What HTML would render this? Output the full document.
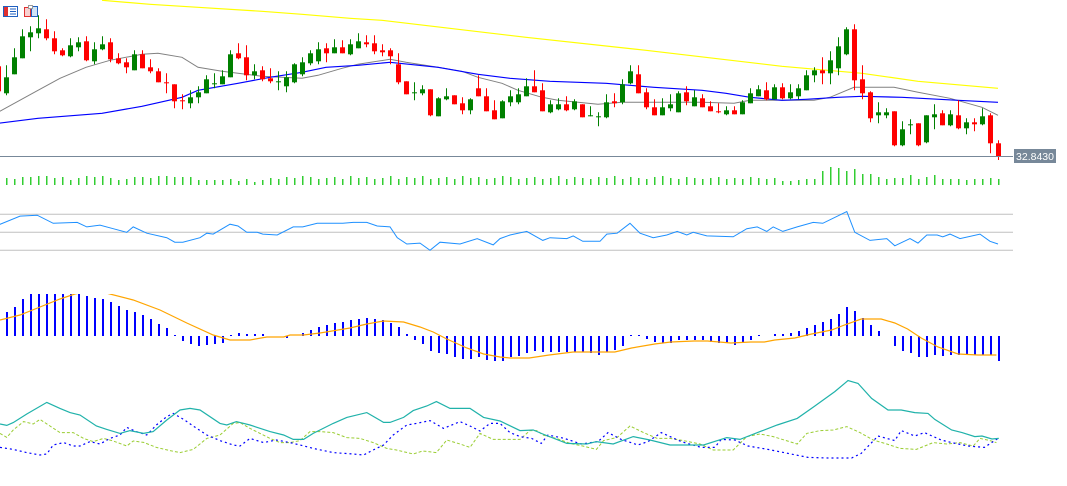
<!DOCTYPE html>
<html><head><meta charset="utf-8"><style>
html,body{margin:0;padding:0;background:#fff;width:1067px;height:486px;overflow:hidden}
svg{display:block;font-family:"Liberation Sans",sans-serif}
</style></head><body>
<svg id="chart" width="1067" height="486" viewBox="0 0 1067 486" xmlns="http://www.w3.org/2000/svg">
<defs>
<clipPath id="clipMain"><rect x="0" y="0" width="1013" height="160"/></clipPath>
<clipPath id="clipMacd"><rect x="0" y="294" width="1013" height="80"/></clipPath>
</defs>
<g id="main" clip-path="url(#clipMain)"></g>
<g id="vol"></g>
<g id="rsi"></g>
<g id="macd" clip-path="url(#clipMacd)"></g>
<g id="adx"></g>
<g>
<g>
<rect x="3.5" y="6.5" width="14" height="10" fill="#fff" stroke="#2060c0"/>
<rect x="4" y="7" width="4" height="9" fill="#e03030"/>
<line x1="10" y1="9" x2="16" y2="9" stroke="#2060c0"/><line x1="10" y1="11.5" x2="16" y2="11.5" stroke="#2060c0"/><line x1="10" y1="14" x2="16" y2="14" stroke="#2060c0"/>
</g>
<g>
<rect x="24.5" y="7.5" width="6" height="9" fill="#f8d0d0" stroke="#e03030"/>
<rect x="31.5" y="6.5" width="6" height="10" fill="#cfe3f7" stroke="#2060c0"/>
<rect x="28.5" y="5.5" width="4" height="3" fill="#fff" stroke="#999"/>
</g>
</g>
<line x1="0" y1="156.5" x2="1013" y2="156.5" stroke="#778899" stroke-width="1"/>
<rect x="1014" y="149" width="42" height="14" fill="#778899"/>
<text x="1035" y="160" fill="#fff" font-size="10.5" text-anchor="middle">32.8430</text>
</svg>
<script>
const O=[33.74,33.47,33.66,33.82,34.03,34.07,34.11,34.02,33.90,33.84,33.93,33.99,33.79,33.91,33.98,33.82,33.78,33.70,33.86,33.73,33.69,33.58,33.56,33.40,33.37,33.43,33.47,33.56,33.56,33.63,33.87,33.83,33.65,33.70,33.62,33.58,33.54,33.58,33.66,33.77,33.79,33.92,33.87,33.93,33.86,33.92,33.98,33.97,33.90,33.90,33.76,33.59,33.47,33.47,33.51,33.24,33.41,33.45,33.37,33.30,33.52,33.44,33.30,33.22,33.38,33.38,33.44,33.54,33.50,33.28,33.31,33.36,33.31,33.36,33.24,33.23,33.23,33.39,33.38,33.57,33.66,33.48,33.33,33.25,33.32,33.28,33.48,33.34,33.42,33.34,33.29,33.26,33.30,33.26,33.37,33.44,33.50,33.41,33.53,33.42,33.44,33.50,33.65,33.70,33.67,33.72,33.86,34.11,33.61,33.48,33.25,33.25,33.29,32.95,33.15,33.17,32.98,33.23,33.27,33.15,33.25,33.12,33.18,33.16,33.25,32.97];
const C=[33.49,33.63,33.83,34.04,34.08,34.12,34.02,33.89,33.85,33.95,33.98,33.80,33.91,33.96,33.81,33.77,33.73,33.86,33.72,33.69,33.58,33.57,33.39,33.39,33.43,33.48,33.61,33.57,33.64,33.86,33.82,33.65,33.69,33.61,33.59,33.59,33.63,33.76,33.78,33.87,33.91,33.87,33.93,33.87,33.96,33.99,33.96,33.89,33.88,33.84,33.58,33.46,33.48,33.51,33.25,33.42,33.44,33.36,33.30,33.41,33.44,33.29,33.21,33.39,33.44,33.46,33.54,33.48,33.29,33.36,33.36,33.30,33.39,33.23,33.25,33.24,33.38,33.37,33.56,33.69,33.47,33.33,33.25,33.33,33.36,33.47,33.39,33.43,33.33,33.29,33.28,33.30,33.26,33.38,33.47,33.51,33.41,33.53,33.42,33.48,33.52,33.65,33.70,33.67,33.80,33.94,34.11,33.60,33.47,33.22,33.28,33.28,32.95,33.11,33.16,32.95,33.25,33.26,33.15,33.26,33.12,33.18,33.16,33.24,32.97,32.84];
const H=[33.74,33.75,33.92,34.11,34.14,34.25,34.21,34.09,33.92,34.02,34.03,34.04,33.98,34.04,34.02,33.87,33.82,33.90,33.90,33.81,33.72,33.67,33.56,33.46,33.50,33.54,33.65,33.67,33.70,33.90,33.97,33.95,33.76,33.74,33.72,33.69,33.69,33.77,33.83,33.90,33.98,33.97,34.01,34.00,34.01,34.07,34.05,34.05,33.96,33.92,33.87,33.59,33.58,33.55,33.51,33.43,33.52,33.45,33.43,33.42,33.65,33.52,33.40,33.40,33.50,33.52,33.62,33.70,33.57,33.40,33.42,33.44,33.41,33.36,33.34,33.28,33.46,33.47,33.61,33.75,33.75,33.52,33.41,33.42,33.46,33.49,33.54,33.50,33.46,33.39,33.37,33.34,33.34,33.40,33.52,33.55,33.58,33.56,33.57,33.56,33.56,33.70,33.73,33.83,33.89,34.03,34.13,34.16,33.75,33.49,33.38,33.32,33.29,33.19,33.21,33.17,33.25,33.36,33.30,33.30,33.40,33.22,33.22,33.32,33.27,33.00];
const L=[33.49,33.45,33.66,33.82,33.89,34.02,34.00,33.86,33.84,33.83,33.89,33.79,33.76,33.90,33.78,33.76,33.67,33.70,33.72,33.67,33.58,33.47,33.32,33.31,33.32,33.37,33.47,33.52,33.56,33.63,33.81,33.60,33.61,33.59,33.57,33.50,33.48,33.57,33.64,33.75,33.76,33.78,33.87,33.87,33.85,33.92,33.93,33.86,33.84,33.76,33.56,33.46,33.40,33.45,33.24,33.24,33.40,33.36,33.26,33.26,33.44,33.29,33.21,33.22,33.34,33.36,33.44,33.48,33.29,33.27,33.30,33.29,33.30,33.23,33.24,33.14,33.22,33.33,33.36,33.56,33.47,33.31,33.25,33.25,33.29,33.28,33.35,33.34,33.33,33.29,33.27,33.25,33.26,33.26,33.37,33.44,33.40,33.41,33.41,33.41,33.41,33.50,33.58,33.56,33.56,33.65,33.85,33.50,33.41,33.18,33.17,33.22,32.94,32.94,33.06,32.94,32.97,33.11,33.15,33.14,33.11,33.06,33.09,33.15,32.87,32.78];
const maFastIdx=[0,5,7.75,11,14,18,20,23,25,28,30,33,38,40,43,45,49,51,55,58,60,63,65,68,70,75,78,88,92,94,102,104,107,112,115,119,123,125];
const maFastVal=[33.28,33.50,33.62,33.73,33.80,33.86,33.87,33.83,33.73,33.69,33.67,33.64,33.62,33.65,33.72,33.76,33.81,33.78,33.73,33.69,33.63,33.57,33.50,33.43,33.40,33.36,33.38,33.38,33.37,33.40,33.40,33.43,33.53,33.53,33.48,33.42,33.33,33.25];
const maMidIdx=[0,5,13,18,23,25,30,34,38,41,45,49,55,60,64,69,76,82,88,91,94,98,101,105,108,113,120,125];
const maMidVal=[33.17,33.22,33.27,33.34,33.43,33.50,33.57,33.63,33.68,33.73,33.75,33.78,33.73,33.66,33.62,33.59,33.57,33.53,33.50,33.47,33.43,33.40,33.41,33.43,33.44,33.43,33.40,33.38];
const maSlowIdx=[13,19,25,33,38,44,48,66,81,98,108,115,125];
const maSlowVal=[34.40,34.36,34.33,34.29,34.26,34.22,34.20,34.03,33.90,33.74,33.67,33.59,33.52];
const volume=[7,7,6,8,8,9,9,7,8,5,7,9,8,9,7,5,6,8,8,7,9,9,8,8,8,5,5,5,5,6,4,6,3,5,7,6,8,7,9,8,6,7,8,6,9,7,8,6,7,9,6,8,7,9,6,7,8,6,9,7,8,6,7,9,8,6,7,8,6,7,9,6,8,7,6,8,7,9,6,8,7,6,8,9,7,6,8,7,6,7,8,6,7,6,8,7,6,7,4,4,5,6,6,14,18,17,14,16,11,11,8,6,7,7,10,6,8,10,6,6,6,5,6,6,7,6];
const rsiLevels=[70,50,30];
const rsiIdx=[0,2.75,4.9,6.9,9.9,11.1,12.75,14.4,16.1,16.9,18.6,21.1,22.1,23.1,25.25,26.1,26.9,29,30,31.1,32.4,33.1,34.9,36.9,38.1,39.9,41.5,43.1,44.4,46.1,47.4,49,49.9,51.1,52.75,54,55.25,57.75,59.9,61.9,62.75,64,66.1,68.1,69,71.1,71.9,73.1,75.25,76.1,77.4,79,80.25,81.9,83.6,84.9,86.1,86.9,88.6,91.9,93.6,94.9,96.1,96.9,98.1,99.9,101.9,103.1,106.1,107.1,109,111.1,112.1,114,115,116.1,117.4,118.1,119,120.25,122.75,124,125];
const rsiVal=[58,68,69,60,61,56,58,54,50,56,49,44,39,39,44,49,48,59,57,50,50,48,47,56,56,60,60,60,61,61,57,56,44,37,38,30,39,37,43,36,43,47,51,41,44,43,46,40,40,48,49,60,49,44,47,51,47,50,46,45,54,56,51,56,51,56,61,60,73,50,41,43,35,43,38,47,47,45,48,43,48,40,37];
const macdHist=[20,24,29,37,42,42,42,42,42,42,42,40,38,37,34,30,26,24,21,17,12,8,1,-5,-8,-10,-9,-8,-7,1,3,2,2,2,0,0,-2,0,3,6,9,11,13,14,16,17,18,17,16,13,9,2,-4,-8,-15,-17,-18,-21,-23,-23,-21,-24,-25,-25,-21,-20,-17,-15,-16,-16,-16,-16,-16,-16,-17,-19,-16,-14,-10,1,1,-3,-6,-7,-7,-4,-4,-4,-4,-6,-7,-7,-9,-7,-4,1,0,2,2,3,5,8,11,14,17,22,29,25,18,11,5,0,-10,-15,-17,-21,-21,-19,-20,-19,-19,-19,-19,-19,-19,-25];
const sigIdx=[0.25,2.75,5.25,7.75,9.6,11.5,13,14,16.9,20.25,23.6,26.9,29,31.5,33.6,35.7,36.5,38.2,40.25,44,46.1,48.2,50.7,52.75,54.4,56.1,58.6,60.7,62.75,64,66.4,68.9,71.9,75.1,77.1,79.2,82.1,84.1,87,88.7,91.6,94.1,95.8,97.1,99.6,101.7,104.2,105.8,107.9,110.4,112.1,113.7,115.4,117.5,120,122.5,124.8];
const sigVal=[16,21,29,37,42,45,44,42,36,26,13,1,-4,-4,-1,-1,1,1,3,8,12,15,14,9,4,-3,-12,-18,-21,-22,-22,-19,-16,-16,-16,-12,-8,-6,-5,-5,-7,-6,-6,-4,-2,2,6,11,17,17,13,7,-2,-11,-18,-19,-19];
const adxIdx=[0.25,1.1,1.9,3.6,6.1,7.75,9,10.25,12.3,13.6,15.25,16.5,18.2,19.4,21.1,22.75,24,25.25,27.75,28.6,29.8,31.5,34,35.7,36.9,38.2,39.4,41.9,43.6,46.1,48.2,49,50.7,51.9,53.6,54.8,56.5,59,60.7,62.75,65.25,66.9,68.1,71.1,73.6,74.8,76.9,79.4,81.5,84,88.2,91.1,92.75,95.25,97.4,99.9,102,104.6,106.25,107.5,109.2,111.25,112.9,114.6,116.25,117.1,119.2,120.5,122.1,123,124.25,125.1];
const adxVal=[17,16.3,17.7,22,27.8,24.8,22.7,21.5,16,14.3,12.3,13.7,12.3,13.2,19,24,24.8,24,17.3,16.5,18.2,16.5,13.2,11.5,9.3,9.3,12.3,17.3,20.3,22.7,17.8,17.8,20.3,23.7,26,28.2,24.8,24.8,20.3,18.5,13.7,14,12,7.3,7,8.2,7,10.7,9,6.5,6.5,10.2,9.3,13.2,16.5,19.8,25.7,33.2,38.7,37.3,29.8,24,24,22.7,22.3,19.3,14,12.7,10.7,11,9.5,9.8];
const pdiIdx=[0.25,1.1,1.9,3.2,4.4,5.25,6.5,7.75,9.4,10.7,11.9,13.2,14.4,16.1,16.9,18.2,19.8,21.5,22.75,24.4,26.1,27.75,29.4,30.25,31.5,32.75,34,35.25,36.5,37.75,39,40.25,41.9,43.6,45.25,46.9,48.6,49.8,51.9,53.1,54.8,56.1,57.75,59,60.25,61.9,65.25,66.5,67.4,68.1,69.8,71.5,73.1,74.8,75.7,77.4,79,80.7,82.4,84,85.7,87.75,89.4,91.9,93.6,95.25,96.9,99.9,101.1,102.75,104.4,106.1,107.75,109.4,111.1,112.75,114.8,116.9,118.6,120.25,121.9,122.75,124,124.8];
const pdiVal=[12.3,10.3,14,18.2,17,19.3,16,12.7,12.7,9.8,8.2,9.8,8.5,6,8.5,7.8,5.3,3.7,2.7,4.3,9.8,11.5,17.3,17.7,14.8,12.3,9.8,7.7,7.7,8.7,13.2,13.2,12.7,10.2,9.8,7.7,4.8,4,2,3.5,2.7,9,7,5.3,12.3,9.3,9.3,13.7,13.7,11.5,9.8,7.3,6,4.3,8.7,10.3,16,12.7,9.8,9.8,8.7,7,4,4,10.7,12,10.7,7,12.3,13.7,14,15.7,12.7,9,7,4.8,4.3,7.7,7,7.7,6,9.8,8.7,7.7];
const mdiIdx=[0.25,1.9,3.6,5.25,6.1,6.9,8.2,9.4,10.25,11.5,12.75,14,15.25,16.1,17.3,18.6,19.8,21.1,21.9,23.2,24.4,26.1,27.75,29.4,30.25,31.5,33.2,34.8,36.5,37.75,39.4,41.9,44.4,45.7,46.9,48.2,49.4,51.1,52.3,54,55.7,57.75,59,60.25,61.5,62.75,64,65.25,66.7,67.9,68.75,70.8,72.9,75,76.25,77.9,80,81.25,82.9,85.4,87.9,89.6,90.4,92.1,93.75,96.25,98.75,101.25,103.75,106.7,107.9,110,112.1,112.9,114.6,115.8,117.9,119.2,121.25,123.3,125];
const mdiVal=[5.3,4.3,2.7,1.5,2,6.5,7.7,6,6,8.2,7,9.8,11.5,15.3,13.2,11.5,16.5,20.7,22.3,19.3,16,11.5,8.7,6.5,6,9.8,7.7,9,7.7,6.5,4.8,2.7,2,1.5,4,6.5,11.5,16.5,17.3,18.7,14.8,18.2,16,13.5,17.3,17.3,12.7,10.7,9.8,7.3,11.5,9.8,7,8.2,12.7,9.3,6.5,8.2,12.7,8.2,5.3,5.3,9.3,9,6,4.3,2.3,0.3,0,0,2.3,11,8.7,13.7,11,12.7,9,7.7,6,5.3,9.8];

const NS='http://www.w3.org/2000/svg';
const xAt=i=>-2+8*i;
const yPrice=p=>156+(32.843-p)*100;
const yVol=v=>185-v;
const yRsi=v=>232.3-(v-50)*0.9;
const yMacd=m=>336-m;
const yAdx=v=>458-2*v;
function mk(tag,attrs,parent){const e=document.createElementNS(NS,tag);for(const k in attrs)e.setAttribute(k,attrs[k]);parent.appendChild(e);return e;}
function pts(idx,val,yf){return idx.map((t,k)=>xAt(t).toFixed(1)+','+yf(val[k]).toFixed(1)).join(' ');}

const main=document.getElementById('main');
// moving averages
let ln=mk('polyline',{points:pts(maSlowIdx,maSlowVal,yPrice),fill:'none',stroke:'#ffff00','stroke-width':1.2},main);


ln=mk('polyline',{points:pts(maFastIdx,maFastVal,yPrice),fill:'none',stroke:'#808080','stroke-width':1},main);


ln=mk('polyline',{points:pts(maMidIdx,maMidVal,yPrice),fill:'none',stroke:'#0000ff','stroke-width':1.2},main);


// candles
for(let i=0;i<O.length;i++){
  const up=C[i]>=O[i];const col=up?'#008000':'#ff0000';const x=xAt(i);
  const g=mk('g',{},main);
  
  
  mk('line',{x1:x+0.5,x2:x+0.5,y1:yPrice(H[i]),y2:yPrice(L[i]),stroke:col,'stroke-width':1},g);
  const t=yPrice(Math.max(O[i],C[i])),b=yPrice(Math.min(O[i],C[i]));
  mk('rect',{x:x-2,y:t,width:5,height:Math.max(1,b-t),fill:col},g);
}
// volume
const vol=document.getElementById('vol');
for(let i=0;i<volume.length;i++){
  const r=mk('rect',{x:xAt(i),y:yVol(volume[i]),width:1.5,height:volume[i],fill:'#32cd32'},vol);
  
  
}
// rsi
const rsi=document.getElementById('rsi');
rsiLevels.forEach(v=>{
  const l=mk('line',{x1:0,x2:1013,y1:yRsi(v),y2:yRsi(v),stroke:'#c0c0c0','stroke-width':1},rsi);
  
  
});
ln=mk('polyline',{points:pts(rsiIdx,rsiVal,yRsi),fill:'none',stroke:'#1e90ff','stroke-width':1},rsi);


// macd
const macd=document.getElementById('macd');
for(let i=0;i<macdHist.length;i++){
  const m=macdHist[i];if(m===0)continue;
  const y0=yMacd(0),y1=yMacd(m);
  const r=mk('rect',{x:xAt(i),y:Math.min(y0,y1),width:2,height:Math.abs(y1-y0),fill:'#0000ff'},macd);
  
  
}
ln=mk('polyline',{points:pts(sigIdx,sigVal,yMacd),fill:'none',stroke:'#ffa500','stroke-width':1.2},macd);


// adx
const adx=document.getElementById('adx');
ln=mk('polyline',{points:pts(pdiIdx,pdiVal,yAdx),fill:'none',stroke:'#9acd32','stroke-width':1,'stroke-dasharray':'3,2'},adx);


ln=mk('polyline',{points:pts(mdiIdx,mdiVal,yAdx),fill:'none',stroke:'#0000ff','stroke-width':1.2,'stroke-dasharray':'2,3'},adx);


ln=mk('polyline',{points:pts(adxIdx,adxVal,yAdx),fill:'none',stroke:'#20b2aa','stroke-width':1.2},adx);


</script>
</body></html>
